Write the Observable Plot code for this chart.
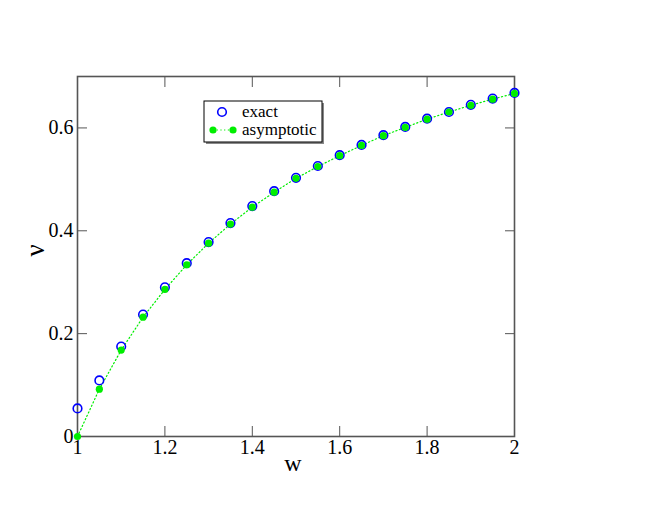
<!DOCTYPE html>
<html>
<head>
<meta charset="utf-8">
<script src="https://cdn.jsdelivr.net/npm/d3@7"></script>
<script src="https://cdn.jsdelivr.net/npm/@observablehq/plot@0.6"></script>
<style>
  html, body { margin: 0; padding: 0; background: #fff; }
  #wrap { position: relative; width: 664px; height: 513px; }
  #legend { position: absolute; left: 0; top: 0; }
  #wrap svg text { font-family: 'Liberation Serif', serif; }
  #wrap g[aria-label$="tick label"] { font-size: 20px; fill: #000; }
</style>
</head>
<body>
<div id="wrap"></div>
<script>
const w = [1, 1.05, 1.1, 1.15, 1.2, 1.25, 1.3, 1.35, 1.4, 1.45, 1.5, 1.55, 1.6, 1.65, 1.7, 1.75, 1.8, 1.85, 1.9, 1.95, 2];
const exact = [0.0545, 0.109, 0.175, 0.237, 0.290, 0.337, 0.378, 0.415, 0.448, 0.477, 0.503, 0.526, 0.547, 0.567, 0.586, 0.602, 0.618, 0.631, 0.645, 0.657, 0.668];
const asymptotic = [0, 0.092, 0.168, 0.232, 0.286, 0.334, 0.376, 0.413, 0.446, 0.475, 0.502, 0.525, 0.546, 0.566, 0.585, 0.601, 0.617, 0.631, 0.644, 0.656, 0.667];
const xTicks = [1, 1.2, 1.4, 1.6, 1.8, 2];
const xTickLabels = ["1", "1.2", "1.4", "1.6", "1.8", "2"];
const yTicks = [0, 0.2, 0.4, 0.6];
const yTickLabels = ["0", "0.2", "0.4", "0.6"];
const seriesNames = ["exact", "asymptotic"];

const exactData = w.map((x, i) => ({x, y: exact[i]}));
const asymData = w.map((x, i) => ({x, y: asymptotic[i]}));

const axisColor = "#555";
const chart = Plot.plot({
  width: 664,
  height: 513,
  marginLeft: 77,
  marginRight: 150,
  marginTop: 76,
  marginBottom: 77,
  style: {fontFamily: "Liberation Serif", fontSize: "20px", color: "#000", background: "#fff"},
  x: {domain: [1, 2]},
  y: {domain: [0, 0.7]},
  marks: [
    Plot.axisX(xTicks, {anchor: "bottom", tickSize: 0, tickPadding: 3, tickFormat: (d, i) => xTickLabels[i], label: null}),
    Plot.axisX(xTicks, {anchor: "bottom", tickSize: -10, text: null, stroke: axisColor, label: null}),
    Plot.axisX(xTicks, {anchor: "top", tickSize: -10, text: null, stroke: axisColor, label: null}),
    Plot.axisY(yTicks, {anchor: "left", tickSize: 0, tickPadding: 4, tickFormat: (d, i) => yTickLabels[i], label: null}),
    Plot.axisY(yTicks, {anchor: "left", tickSize: -10, text: null, stroke: axisColor, label: null}),
    Plot.axisY(yTicks, {anchor: "right", tickSize: -10, text: null, stroke: axisColor, label: null}),
    Plot.frame({stroke: axisColor, strokeWidth: 1.6}),
    Plot.line(asymData, {x: "x", y: "y", stroke: "#00ee00", strokeWidth: 1.2, strokeDasharray: "1.2,2.5"}),
    Plot.dot(exactData, {x: "x", y: "y", r: 4.3, stroke: "#0000ff", strokeWidth: 1.6, fill: "none"}),
    Plot.dot(asymData, {x: "x", y: "y", r: 3.6, fill: "#00ee00", stroke: "none"}),
    Plot.text(["w"], {frameAnchor: "bottom", dx: -3, dy: 34, fontSize: 24, fill: "#000"}),
    Plot.text(["ν"], {frameAnchor: "left", dx: -42, rotate: -90, fontSize: 27, fill: "#000"})
  ]
});
document.getElementById("wrap").appendChild(chart);

// Legend box
const lg = d3.create("svg").attr("id", "legend").attr("width", 664).attr("height", 513)
  .style("font-family", "'Liberation Serif', serif").style("font-size", "17px");
lg.append("rect").attr("x", 206).attr("y", 103).attr("width", 118).attr("height", 41).attr("fill", "#888");
lg.append("rect").attr("x", 204).attr("y", 101).attr("width", 118).attr("height", 41).attr("fill", "#fff").attr("stroke", "#000").attr("stroke-width", 1);
lg.append("circle").attr("cx", 222).attr("cy", 112).attr("r", 4.3).attr("fill", "none").attr("stroke", "#0000ff").attr("stroke-width", 1.6);
lg.append("text").attr("x", 242).attr("y", 117).text(seriesNames[0]);
lg.append("line").attr("x1", 213).attr("x2", 233).attr("y1", 130).attr("y2", 130).attr("stroke", "#00ee00").attr("stroke-width", 1.2).attr("stroke-dasharray", "1.2,2.5");
lg.append("circle").attr("cx", 213).attr("cy", 130).attr("r", 3.6).attr("fill", "#00ee00");
lg.append("circle").attr("cx", 233).attr("cy", 130).attr("r", 3.6).attr("fill", "#00ee00");
lg.append("text").attr("x", 242).attr("y", 135).text(seriesNames[1]);
document.getElementById("wrap").appendChild(lg.node());
</script>
</body>
</html>
